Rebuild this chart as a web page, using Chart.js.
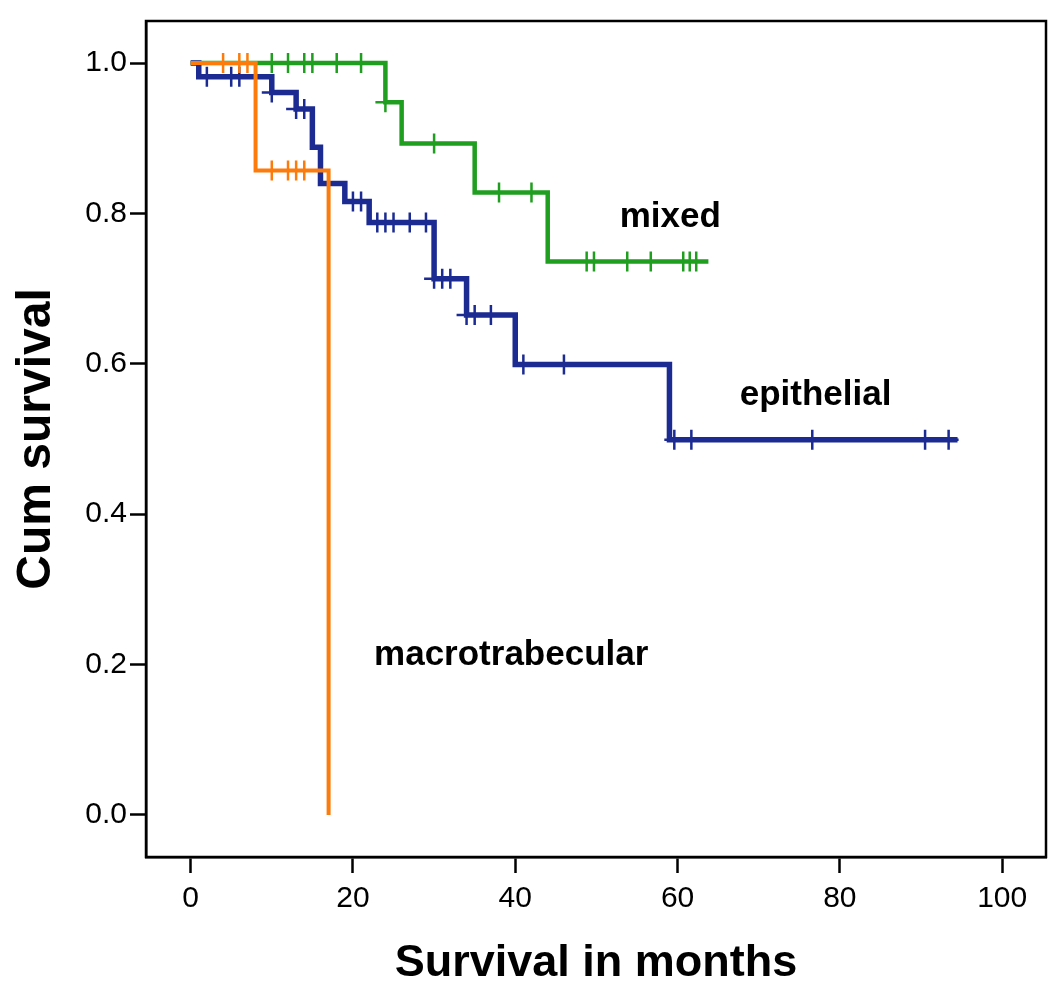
<!DOCTYPE html>
<html>
<head>
<meta charset="utf-8">
<script src="https://cdn.jsdelivr.net/npm/chart.js@4"></script>
<style>
  html, body { margin: 0; padding: 0; background: #fff; }
  canvas { display: block; }
</style>
</head>
<body>
<canvas id="km" width="1063" height="999"></canvas>
<script>
// Kaplan-Meier steps (months, cumulative survival)
const epiTimes = [0, 1, 10, 13, 15, 16, 19, 22, 30, 34, 40, 59];
const epiSurv  = [1, 0.982, 0.961, 0.939, 0.888, 0.840, 0.816, 0.788, 0.713, 0.665, 0.599, 0.499];
const epiEnd = 94.5;
const epiCensored = [2, 5, 6, 10, 13, 14, 20, 21, 23, 24, 25, 27, 29, 30, 31, 32, 34, 35, 37, 41, 46, 59.6, 61.7, 76.6, 90.5, 93.4];

const mixTimes = [0, 24, 26, 35, 44];
const mixSurv  = [1, 0.948, 0.893, 0.828, 0.736];
const mixEnd = 63.8;
const mixCensored = [10, 12, 14, 15, 18, 21, 24, 30, 38, 42, 48.8, 49.7, 53.8, 56.7, 60.7, 61.5, 62.3];

const macTimes = [0, 8, 17];
const macSurv  = [1, 0.857, 0];
const macEnd = 17;
const macCensored = [4, 6, 7, 10, 12, 13, 14];

const xTicks = [0, 20, 40, 60, 80, 100];
const yTicks = [0, 0.2, 0.4, 0.6, 0.8, 1.0];

const curveLabels = ['macrotrabecular', 'epithelial', 'mixed'];
const labelAnchors = [[39.5, 0.212], [77.0, 0.558], [59.1, 0.795]];

const BLUE = '#1b2b92';
const GREEN = '#1f9e1f';
const ORANGE = '#fd7b0a';

function stepPoints(times, surv, end) {
  let pts = times.map((t, i) => ({x: t, y: surv[i]}));
  if (end > times[times.length - 1]) pts.push({x: end, y: surv[surv.length - 1]});
  return pts;
}

// survival level at a censoring time = last step at or before it
function censorPoints(times, surv, cens) {
  return cens.map(c => {
    let v = surv[0];
    times.forEach((t, i) => { if (t <= c) v = surv[i]; });
    return {x: c, y: v};
  });
}

function curve(pts, color, w) {
  return { data: pts, showLine: true, stepped: true, borderColor: color,
           borderWidth: w, pointRadius: 0, fill: false };
}
function marks(pts, color) {
  return { data: pts, showLine: false, pointStyle: 'cross', pointRadius: 10,
           borderColor: color, borderWidth: 2.5, backgroundColor: color };
}

const framePlugin = {
  id: 'frame',
  afterDatasetsDraw(chart) {
    const {ctx, chartArea: a, scales} = chart;
    ctx.save();
    ctx.strokeStyle = '#000';
    ctx.lineWidth = 2.5;
    ctx.strokeRect(a.left, a.top, a.right - a.left, a.bottom - a.top);
    ctx.fillStyle = '#000';
    ctx.font = 'bold 35px "Liberation Sans", Arial, sans-serif';
    ctx.textAlign = 'center';
    ctx.textBaseline = 'middle';
    curveLabels.forEach((txt, i) => {
      ctx.fillText(txt, scales.x.getPixelForValue(labelAnchors[i][0]),
                        scales.y.getPixelForValue(labelAnchors[i][1]));
    });
    ctx.restore();
  }
};

const tickFont = {family: '"Liberation Sans", Arial, sans-serif', size: 30};
const xTitleFont = {family: '"Liberation Sans", Arial, sans-serif', size: 45, weight: 'bold'};
const yTitleFont = {family: '"Liberation Sans", Arial, sans-serif', size: 48, weight: 'bold'};

new Chart(document.getElementById('km'), {
  type: 'scatter',
  data: {
    datasets: [
      curve(stepPoints(macTimes, macSurv, macEnd), ORANGE, 4),
      marks(censorPoints(macTimes, macSurv, macCensored), ORANGE),
      curve(stepPoints(epiTimes, epiSurv, epiEnd), BLUE, 5.5),
      marks(censorPoints(epiTimes, epiSurv, epiCensored), BLUE),
      curve(stepPoints(mixTimes, mixSurv, mixEnd), GREEN, 4.5),
      marks(censorPoints(mixTimes, mixSurv, mixCensored), GREEN)
    ]
  },
  options: {
    responsive: false,
    animation: false,
    layout: {padding: {left: 0, top: 20, right: 17, bottom: 0}},
    plugins: {legend: {display: false}, tooltip: {enabled: false}},
    scales: {
      x: {
        type: 'linear', min: -5.5, max: 105.4,
        afterBuildTicks: s => { s.ticks = xTicks.map(v => ({value: v})); },
        afterFit: s => { s.height = 142; },
        grid: {drawOnChartArea: false, tickLength: 16, tickColor: '#000', tickWidth: 2.5},
        border: {display: true, color: '#000', width: 2.5},
        ticks: {color: '#000', font: tickFont, padding: 8, maxRotation: 0,
                callback: v => String(v)},
        title: {display: true, text: 'Survival in months', color: '#000',
                font: xTitleFont, padding: {bottom: 8}}
      },
      y: {
        type: 'linear', min: -0.056, max: 1.056,
        afterBuildTicks: s => { s.ticks = yTicks.map(v => ({value: v})); },
        afterFit: s => { s.width = 146; },
        grid: {drawOnChartArea: false, tickLength: 16, tickColor: '#000', tickWidth: 2.5},
        border: {display: true, color: '#000', width: 2.5},
        ticks: {color: '#000', font: tickFont, padding: 3,
                callback: v => v.toFixed(1)},
        title: {display: true, text: 'Cum survival', color: '#000',
                font: yTitleFont, padding: {top: 8}}
      }
    }
  },
  plugins: [framePlugin]
});
</script>
</body>
</html>
